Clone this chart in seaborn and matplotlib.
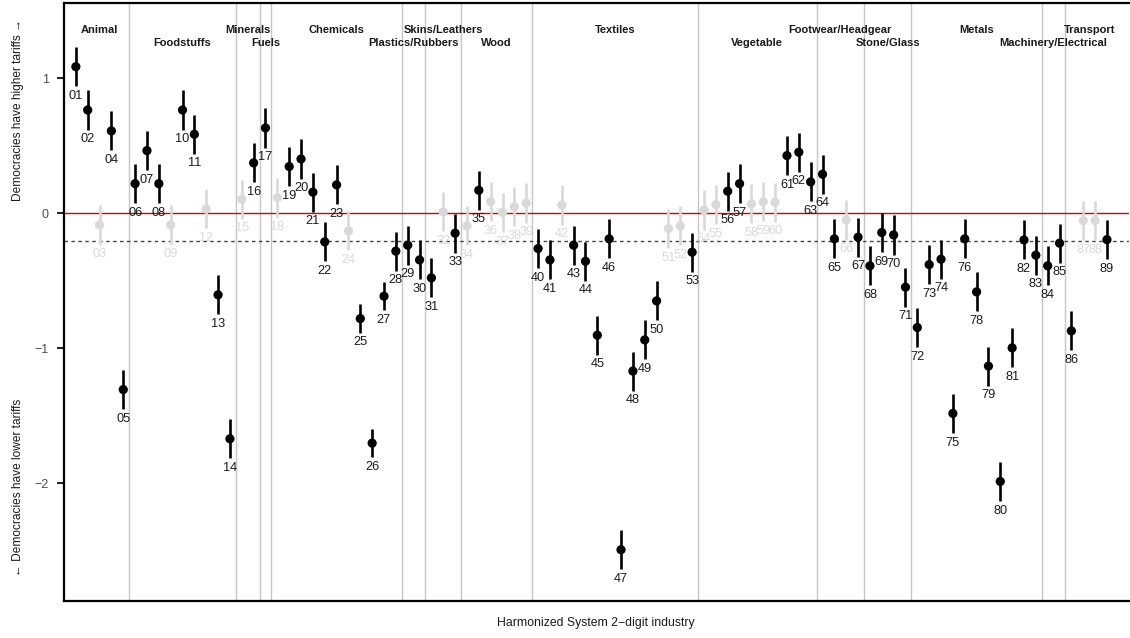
import matplotlib
matplotlib.use("Agg")
import matplotlib.pyplot as plt
import matplotlib.transforms as mtransforms
import seaborn as sns
import pandas as pd

# === Data ===
codes = ["01", "02", "03", "04", "05", "06", "07", "08", "09", "10",
         "11", "12", "13", "14", "15", "16", "17", "18", "19", "20",
         "21", "22", "23", "24", "25", "26", "27", "28", "29", "30",
         "31", "32", "33", "34", "35", "36", "37", "38", "39", "40",
         "41", "42", "43", "44", "45", "46", "47", "48", "49", "50",
         "51", "52", "53", "54", "55", "56", "57", "58", "59", "60",
         "61", "62", "63", "64", "65", "66", "67", "68", "69", "70",
         "71", "72", "73", "74", "75", "76", "78", "79", "80", "81",
         "82", "83", "84", "85", "86", "87", "88", "89"]

estimates = [1.086, 0.765, -0.087, 0.610, -1.307, 0.219, 0.464, 0.219, -0.087, 0.765,
             0.585, 0.032, -0.605, -1.672, 0.104, 0.373, 0.632, 0.116, 0.346, 0.402,
             0.156, -0.212, 0.210, -0.131, -0.781, -1.704, -0.615, -0.281, -0.237, -0.346,
             -0.479, 0.010, -0.148, -0.094, 0.170, 0.086, 0.005, 0.047, 0.076, -0.262,
             -0.346, 0.061, -0.237, -0.356, -0.904, -0.190, -2.494, -1.170, -0.939, -0.650,
             -0.114, -0.094, -0.289, 0.024, 0.064, 0.163, 0.219, 0.069, 0.084, 0.081,
             0.427, 0.452, 0.232, 0.289, -0.190, -0.050, -0.178, -0.390, -0.143, -0.161,
             -0.548, -0.847, -0.381, -0.341, -1.484, -0.190, -0.583, -1.133, -1.988, -0.998,
             -0.198, -0.311, -0.390, -0.222, -0.872, -0.055, -0.055, -0.196]

# half width of the interval; most are the same, a few chemicals are narrower
half_width = [0.145] * len(codes)
for c in ["25", "26", "27"]:
    half_width[codes.index(c)] = 0.105

not_significant = ["03", "09", "12", "15", "18", "24", "32", "34", "36", "37",
                   "38", "39", "42", "51", "52", "54", "55", "58", "59", "60",
                   "66", "87", "88"]

sections = ["Animal", "Foodstuffs", "Minerals", "Fuels", "Chemicals",
            "Plastics/Rubbers", "Skins/Leathers", "Wood", "Textiles", "Vegetable",
            "Footwear/Headgear", "Stone/Glass", "Metals", "Machinery/Electrical", "Transport"]
section_start = ["01", "06", "15", "17", "18", "29", "31", "34", "40", "54",
                 "64", "68", "72", "84", "86"]

reference_line = -0.205

# === Table ===
df = pd.DataFrame({"code": codes, "estimate": estimates, "half": half_width})
df["pos"] = range(1, len(df) + 1)
df["sig"] = ~df["code"].isin(not_significant)
df["lo"] = df["estimate"] - df["half"]
df["hi"] = df["estimate"] + df["half"]

# === Plot ===
sns.set_theme(style="white")
plt.rcParams["font.family"] = ["Liberation Sans", "DejaVu Sans"]

fig = plt.figure(figsize=(11.3, 6.38), dpi=100)
ax = fig.add_axes([64 / 1130, 37 / 638, 1065 / 1130, 598 / 638])

light = "#d9d9d9"

# section separators
starts = [codes.index(s) + 1 for s in section_start]
for s in starts[1:]:
    ax.axvline(s - 0.5, color="#c6c6c6", lw=1, zorder=0)

ax.axhline(0, color="#d40000", lw=1, zorder=1)
ax.axhline(reference_line, color="#444444", lw=1, ls=(0, (2.5, 2.5)), zorder=1)

for sig, col in [(False, light), (True, "black")]:
    sub = df[df["sig"] == sig]
    ax.vlines(sub["pos"], sub["lo"], sub["hi"], color=col, lw=1.9, zorder=2 + sig)

sns.scatterplot(data=df, x="pos", y="estimate", hue="sig",
                palette={False: light, True: "black"}, s=44, linewidth=0,
                legend=False, zorder=4, ax=ax)

for _, r in df.iterrows():
    ax.annotate(r["code"], (r["pos"], r["lo"]), xytext=(0, -6.9),
                textcoords="offset points", ha="center", va="center",
                fontsize=9.2, color="#1a1a1a" if r["sig"] else light, zorder=5)

# section titles, alternating rows
ends = starts[1:] + [len(codes) + 1]
trans = mtransforms.blended_transform_factory(ax.transData, ax.transAxes)
for i, name in enumerate(sections):
    center = (starts[i] + ends[i] - 1) / 2
    ax.text(center, 0.955 if i % 2 == 0 else 0.933, name, transform=trans,
            ha="center", va="center", fontsize=8, fontweight="bold", color="#1a1a1a")

ax.set_xlim(0, 89.86)
ax.set_ylim(-2.874, 1.558)
ax.set_xticks([])
ax.set_yticks([1, 0, -1, -2])
ax.set_yticklabels(["1", "0", "\u22121", "\u22122"])
ax.tick_params(axis="y", direction="out", length=5, width=1.5, pad=6,
               labelsize=9, labelcolor="#4d4d4d", left=True)
ax.set_xlabel("")
ax.set_ylabel("")

for side in ["left", "bottom", "top"]:
    ax.spines[side].set_color("black")
    ax.spines[side].set_linewidth(1.6)
ax.spines["right"].set_visible(False)

fig.text(18 / 1130, 1 - 110 / 638, "Democracies have higher tariffs \u2192",
         rotation=90, ha="center", va="center", fontsize=8.6, color="#1a1a1a")
fig.text(18 / 1130, 1 - 487 / 638, "\u2190 Democracies have lower tariffs",
         rotation=90, ha="center", va="center", fontsize=8.6, color="#1a1a1a")
fig.text(596 / 1130, 1 - 623 / 638, "Harmonized System 2\u2212digit industry",
         ha="center", va="center", fontsize=8.8, color="#1a1a1a")

fig.savefig("out.png", dpi=100)
